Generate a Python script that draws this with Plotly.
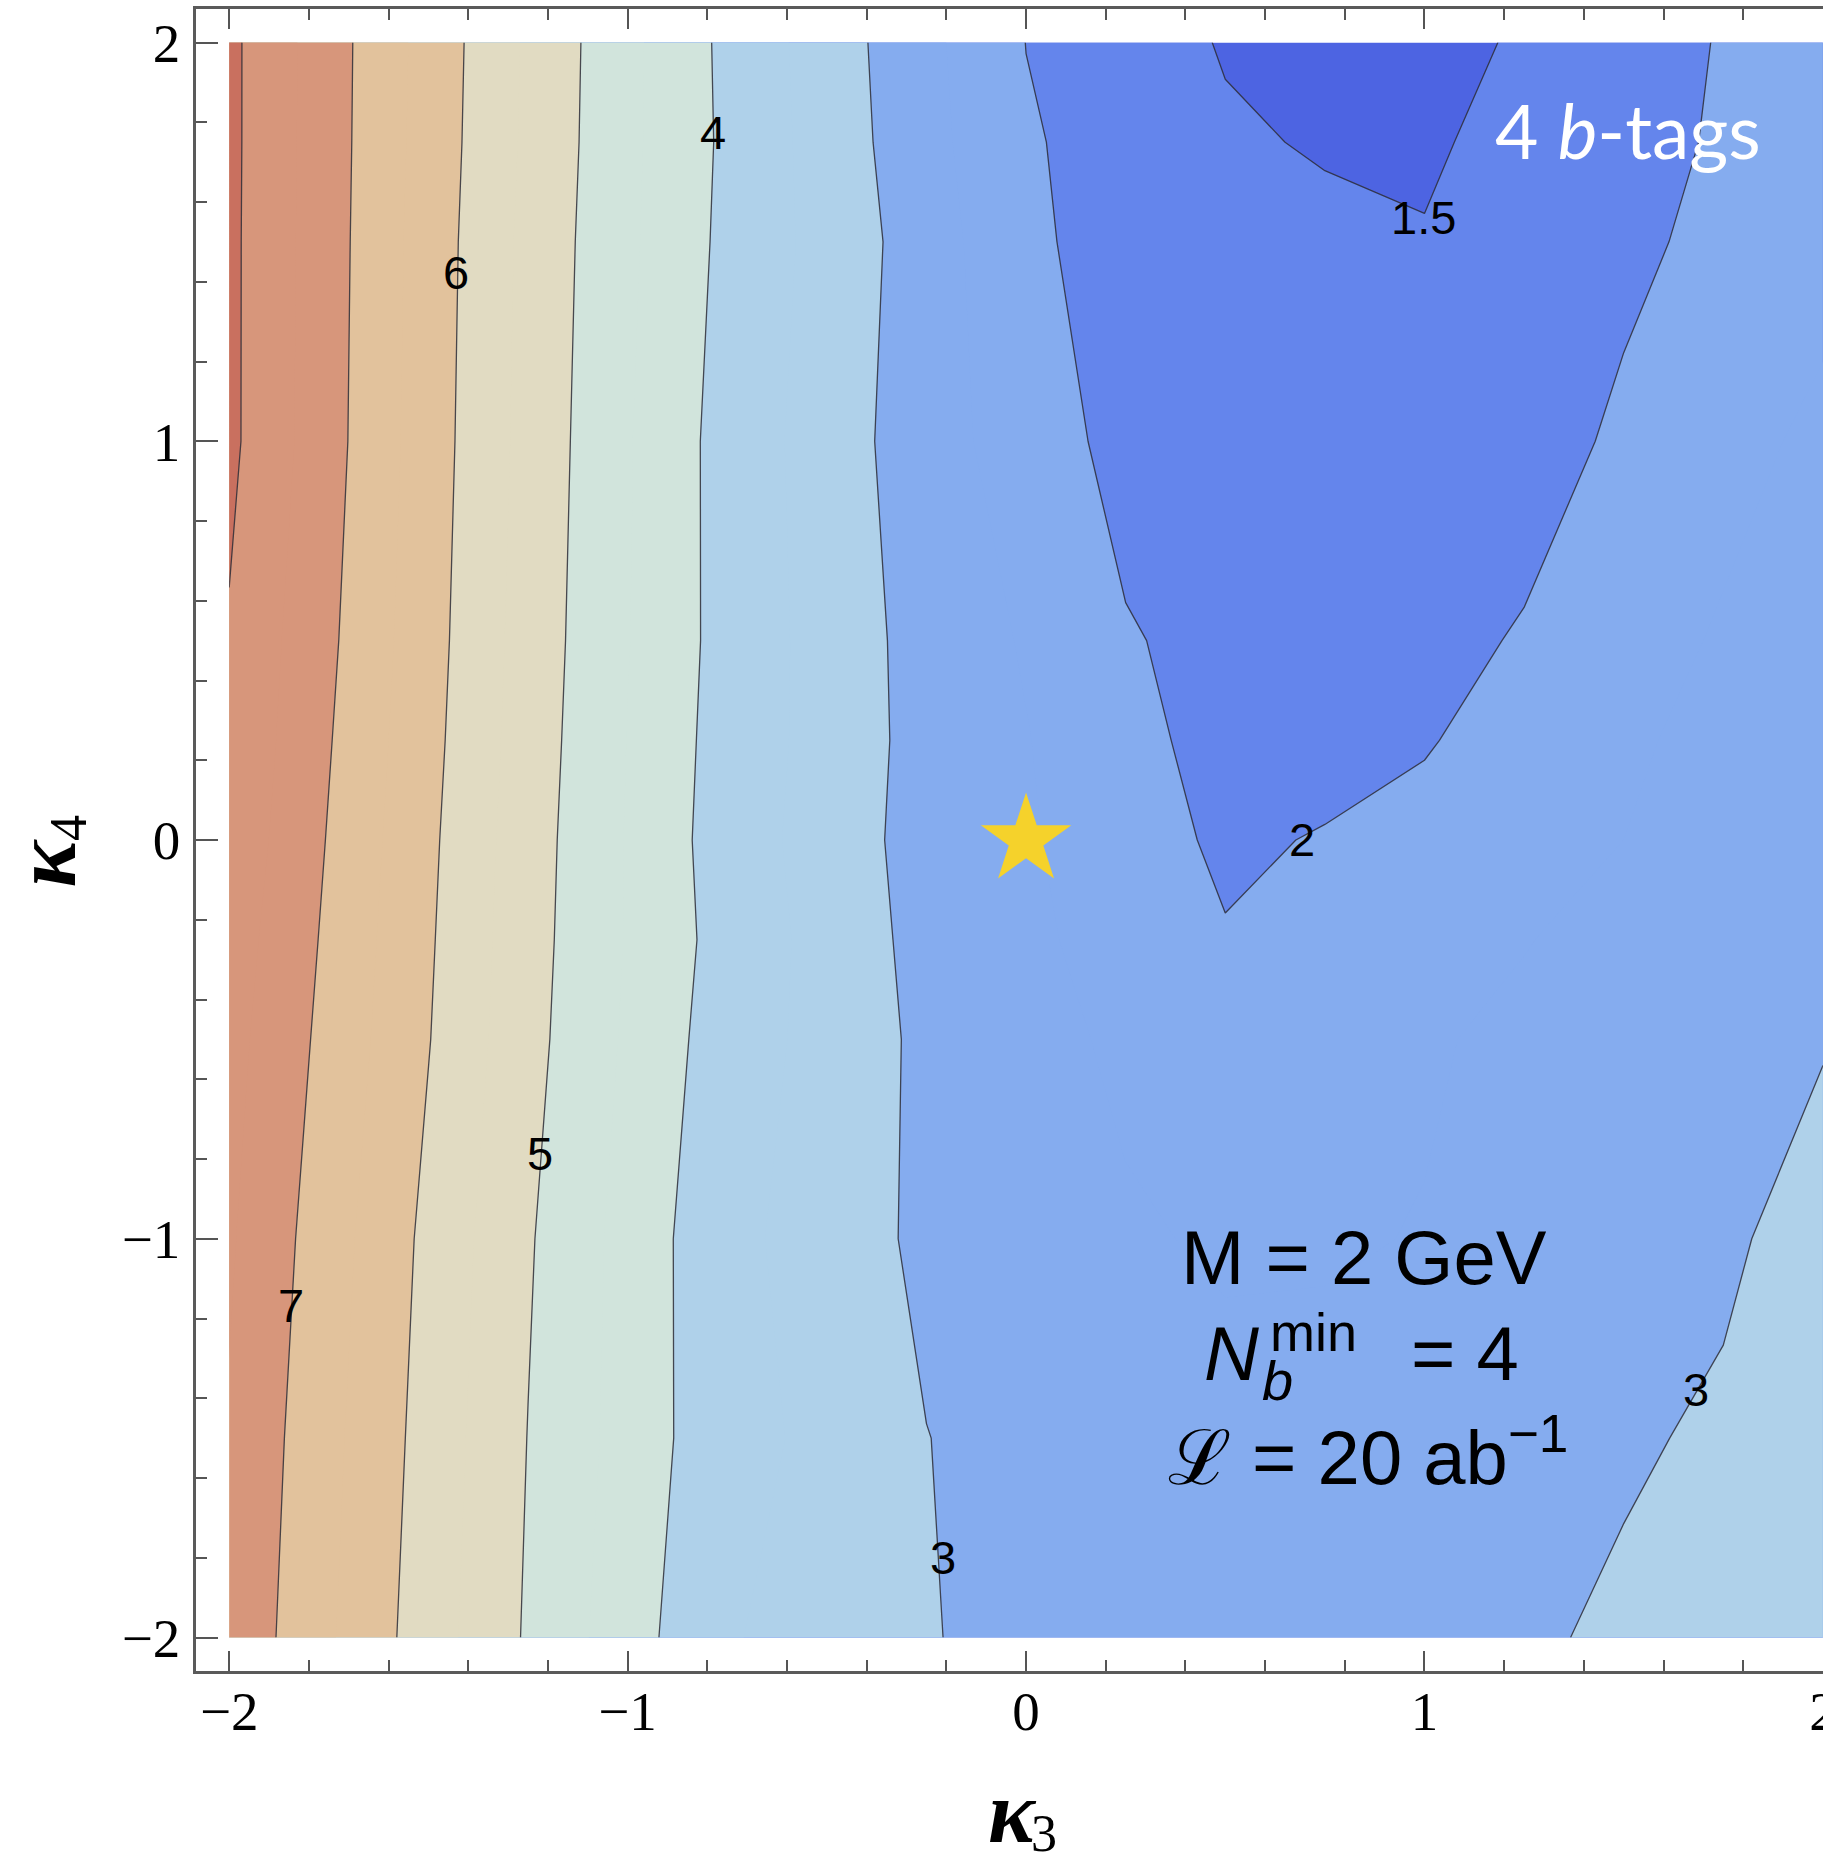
import plotly.graph_objects as go

# ---------------- data ----------------
k3 = [-2.0, -1.75, -1.5, -1.25, -1.0, -0.75, -0.5, -0.25, 0.0,
      0.25, 0.5, 0.75, 1.0, 1.25, 1.5, 1.75, 2.0]
k4 = [-2.0, -1.5, -1.0, -0.5, -0.25, 0.0, 0.25, 0.5, 1.0, 1.5, 1.75, 2.0]

row_m200 = [7.39, 6.56, 5.74, 4.94, 4.22, 3.52, 3.40, 3.04, 2.80, 2.74, 2.70, 2.72, 2.80, 2.965, 3.04, 3.15, 3.30]
row_m150 = [7.46, 6.63, 5.81, 4.99, 4.31, 3.64, 3.40, 3.01, 2.80, 2.68, 2.62, 2.66, 2.75, 2.85, 2.97, 3.035, 3.20]
row_m100 = [7.56, 6.72, 5.88, 5.05, 4.33, 3.61, 3.32, 2.873, 2.70, 2.55, 2.45, 2.45, 2.52, 2.65, 2.80, 2.96, 3.10]
row_m050 = [7.67, 6.85, 6.02, 5.16, 4.43, 3.73, 3.35, 2.882, 2.65, 2.42, 2.25, 2.30, 2.45, 2.60, 2.75, 2.88, 2.985]
row_m025 = [7.75, 6.91, 6.06, 5.19, 4.47, 3.795, 3.34, 2.828, 2.60, 2.30, 2.033, 2.15, 2.30, 2.48, 2.66, 2.84, 2.97]
row_000 = [7.85, 6.97, 6.10, 5.22, 4.47, 3.745, 3.30, 2.783, 2.55, 2.23, 1.91, 2.037, 2.12, 2.30, 2.50, 2.72, 2.95]
row_025 = [7.92, 7.03, 6.15, 5.26, 4.49, 3.78, 3.33, 2.808, 2.52, 2.16, 1.81, 1.80, 1.97, 2.17, 2.42, 2.65, 2.90]
row_050 = [7.96, 7.09, 6.19, 5.29, 4.52, 3.81, 3.32, 2.794, 2.46, 2.04, 1.85, 1.76, 1.86, 2.04, 2.30, 2.55, 2.80]
row_100 = [8.11, 7.18, 6.24, 5.34, 4.54, 3.80, 3.28, 2.697, 2.28, 1.83, 1.75, 1.66, 1.65, 1.80, 2.08, 2.35, 2.60]
row_150 = [8.11, 7.20, 6.27, 5.37, 4.59, 3.877, 3.33, 2.745, 2.09, 1.80, 1.72, 1.60, 1.52, 1.65, 1.90, 2.12, 2.35]
row_175 = [8.115, 7.21, 6.30, 5.41, 4.61, 3.904, 3.29, 2.665, 2.04, 1.844, 1.56, 1.46, 1.45, 1.617, 1.836, 2.054, 2.30]
row_200 = [8.115, 7.216, 6.319, 5.429, 4.621, 3.885, 3.263, 2.625, 1.995, 1.732, 1.465, 1.35, 1.36, 1.55, 1.793, 2.03, 2.28]

significance = [row_m200, row_m150, row_m100, row_m050, row_m025, row_000,
                row_025, row_050, row_100, row_150, row_175, row_200]

# contour levels drawn in the figure
line_levels_main = (2, 8, 1)   # 2,3,...,8
line_level_low = 1.5

# band colours: <1.5, 1.5-2, 2-3, 3-4, 4-5, 5-6, 6-7, 7-8, >8
band_colors = ["#4D64E2", "#6485EC", "#85ACEF", "#AFD1EA", "#D1E4DC",
               "#E1DBC2", "#E2C29C", "#D7967B", "#C9705F"]

# contour label texts and where they sit
label_text = ["4", "6", "5", "7", "3", "2", "1.5", "3"]
label_k3 = [-0.786, -1.432, -1.220, -1.845, -0.208, 0.693, 0.997, 1.682]
label_k4 = [1.774, 1.423, -0.786, -1.167, -1.800, 0.002, 1.562, -1.377]

sm_point_k3 = [0.0]
sm_point_k4 = [0.0]

# ---------------- colour scale (piecewise constant) ----------------
# fill trace uses levels every 0.5 from 1.5 to 8 -> colour domain [1.0, 8.0]
edges = [1.0, 1.5, 2.0, 3.0, 4.0, 5.0, 6.0, 7.0, 7.9, 8.0]
cs = []
for i, col in enumerate(band_colors):
    a = (edges[i] - 1.0) / 7.0
    b = (edges[i + 1] - 1.0) / 7.0
    cs.append([a, col])
    cs.append([b, col])

fig = go.Figure()

fig.add_trace(go.Contour(
    x=k3, y=k4, z=significance,
    autocontour=False,
    contours=dict(start=1.5, end=8.0, size=0.5, coloring="fill", showlines=False),
    colorscale=cs, showscale=False,
    line=dict(width=0, smoothing=0),
    hoverinfo="skip",
))

line_style = dict(color="rgba(45,45,55,0.85)", width=1.3, smoothing=0)
fig.add_trace(go.Contour(
    x=k3, y=k4, z=significance,
    autocontour=False,
    contours=dict(start=line_levels_main[0], end=line_levels_main[1],
                  size=line_levels_main[2], coloring="none"),
    line=line_style, showscale=False, hoverinfo="skip",
))
fig.add_trace(go.Contour(
    x=k3, y=k4, z=significance,
    autocontour=False,
    contours=dict(start=line_level_low, end=line_level_low, size=0.5, coloring="none"),
    line=line_style, showscale=False, hoverinfo="skip",
))

fig.add_trace(go.Scatter(
    x=sm_point_k3, y=sm_point_k4, mode="markers",
    marker=dict(symbol="star", size=68, color="#F5D22B", line=dict(width=0)),
    hoverinfo="skip", showlegend=False,
))

ann = []
for t, xx, yy in zip(label_text, label_k3, label_k4):
    ann.append(dict(x=xx, y=yy, xref="x", yref="y", text=t, showarrow=False,
                    font=dict(family="Liberation Sans", size=47, color="black"),
                    xanchor="center", yanchor="middle"))

sans = "Liberation Sans"
ann += [
    dict(x=1.512, y=1.780, xref="x", yref="y", text="4 <i>b</i>-tags", showarrow=False,
         font=dict(family="Lato", size=75, color="white"), xanchor="center", yanchor="middle"),
    dict(x=0.847, y=-1.159, xref="x", yref="y", text="M = 2 GeV", showarrow=False,
         font=dict(family=sans, size=76, color="black"), xanchor="center", yanchor="bottom"),
    dict(x=0.516, y=-1.399, xref="x", yref="y", text="<i>N</i>", showarrow=False,
         font=dict(family=sans, size=76, color="black"), xanchor="center", yanchor="bottom"),
    dict(x=0.630, y=-1.440, xref="x", yref="y", text="<i>b</i>", showarrow=False,
         font=dict(family=sans, size=56, color="black"), xanchor="center", yanchor="bottom"),
    dict(x=0.722, y=-1.313, xref="x", yref="y", text="min", showarrow=False,
         font=dict(family=sans, size=54, color="black"), xanchor="center", yanchor="bottom"),
    dict(x=1.102, y=-1.399, xref="x", yref="y", text="= 4", showarrow=False,
         font=dict(family=sans, size=76, color="black"), xanchor="center", yanchor="bottom"),
    dict(x=0.857, y=-1.660, xref="x", yref="y", text="ℒ = 20 ab<sup>−1</sup>", showarrow=False,
         font=dict(family=sans, size=76, color="black"), xanchor="center", yanchor="bottom"),
    # axis titles
    dict(x=-0.035, y=-0.0545, xref="x", yref="paper", text="<b><i>κ</i></b>", showarrow=False,
         font=dict(family="Liberation Serif", size=88, color="black"), xanchor="center", yanchor="top"),
    dict(x=0.046, y=-0.0795, xref="x", yref="paper", text="3", showarrow=False,
         font=dict(family="Liberation Serif", size=52, color="black"), xanchor="center", yanchor="top"),
    dict(x=-0.0926, y=-0.058, xref="paper", yref="y", text="<b><i>κ</i></b>", showarrow=False,
         textangle=-90,
         font=dict(family="Liberation Serif", size=88, color="black"), xanchor="center", yanchor="middle"),
    dict(x=-0.0784, y=0.031, xref="paper", yref="y", text="4", showarrow=False,
         textangle=-90,
         font=dict(family="Liberation Serif", size=52, color="black"), xanchor="center", yanchor="middle"),
]

axis_common = dict(
    showgrid=False, zeroline=False, showline=True, automargin=False,
    linecolor="#5a5a5a", linewidth=2.5,
    ticks="inside", tickcolor="#555555", tickwidth=1.8,
    dtick=1, tick0=0,
    tickfont=dict(family="Liberation Serif", size=55, color="black"),
    ticklabeloverflow="allow",
    minor=dict(dtick=0.2, tick0=0, ticks="inside", ticklen=11, tickwidth=1.6,
               tickcolor="#555555", showgrid=False),
)

fig.update_layout(
    width=1823, height=1861, autosize=False,
    margin=dict(l=196, r=0, t=9, b=190, pad=0, autoexpand=False),
    paper_bgcolor="white", plot_bgcolor="white",
    showlegend=False, hovermode=False,
    annotations=ann,
    xaxis=dict(range=[-2.0833, 2.0002], ticklen=20, mirror="allticks",
               ticklabelstandoff=-10, **axis_common),
    yaxis=dict(range=[-2.084, 2.084], ticklen=22, mirror=False,
               ticklabelstandoff=2, **axis_common),
)

fig.write_html("out.html", config={"displayModeBar": False})
